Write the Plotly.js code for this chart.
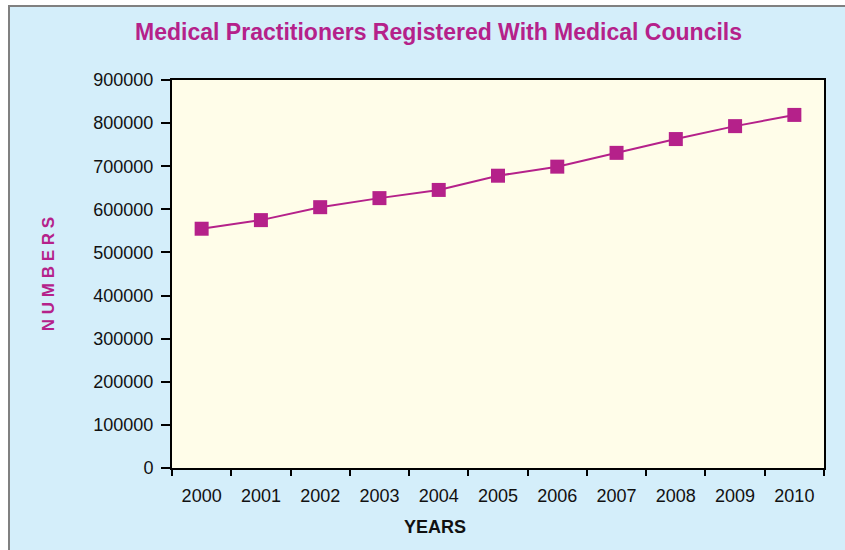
<!DOCTYPE html>
<html>
<head>
<meta charset="utf-8">
<script src="https://cdn.plot.ly/plotly-3.0.1.min.js"></script>
<style>
  html, body { margin: 0; padding: 0; background: #ffffff; width: 845px; height: 550px; overflow: hidden; }
  #frame { position: absolute; left: 8px; top: 5px; width: 860px; height: 560px; background: #D4EEFA; border-left: 2px solid #808080; border-top: 2px solid #808080; }
  #chart { position: absolute; left: 0; top: 0; width: 845px; height: 550px; }
</style>
</head>
<body>
<div id="frame"></div>
<div id="chart"></div>
<script>
const years = ["2000", "2001", "2002", "2003", "2004", "2005", "2006", "2007", "2008", "2009", "2010"];
const practitioners = [555000, 575000, 605000, 626000, 645000, 678000, 699000, 731000, 763000, 793000, 819000];
const yTicks = [0, 100000, 200000, 300000, 400000, 500000, 600000, 700000, 800000, 900000];

const magenta = "#B5218A";

const trace = {
  x: years,
  y: practitioners,
  type: "scatter",
  mode: "lines+markers",
  line: { color: magenta, width: 2 },
  marker: { symbol: "square", size: 14, color: magenta },
  hoverinfo: "x+y"
};

const layout = {
  width: 845,
  height: 550,
  margin: { l: 172, r: 21, t: 80, b: 82 },
  paper_bgcolor: "rgba(0,0,0,0)",
  plot_bgcolor: "#FFFDE9",
  showlegend: false,
  font: { family: "Liberation Sans, Arial, sans-serif", color: "#000000" },
  title: {
    text: "Medical Practitioners Registered With Medical Councils",
    font: { family: "Liberation Sans, Arial, sans-serif", size: 23, color: magenta, weight: "bold" },
    xref: "container", x: 0.519, xanchor: "center",
    yref: "container", y: 0.942, yanchor: "middle"
  },
  annotations: [{
    text: "YEARS",
    xref: "paper", x: 0.403, xanchor: "center",
    yref: "paper", y: -0.152, yanchor: "middle",
    showarrow: false,
    font: { family: "Liberation Sans, Arial, sans-serif", size: 18, weight: "bold", color: "#111111" }
  }],
  xaxis: {
    type: "category",
    range: [-0.5, 10.5],
    tickson: "boundaries",
    ticks: "outside",
    ticklen: 6,
    tickwidth: 2,
    tickcolor: "#000000",
    showline: true,
    linecolor: "#000000",
    linewidth: 2,
    mirror: true,
    showgrid: false,
    zeroline: false,
    tickfont: { size: 18, color: "#111111" },
    ticklabelstandoff: 10,
    fixedrange: true
  },
  yaxis: {
    range: [0, 900000],
    tickvals: yTicks,
    ticktext: yTicks.map(String),
    ticks: "outside",
    ticklen: 9,
    tickwidth: 2,
    tickcolor: "#000000",
    showline: true,
    linecolor: "#000000",
    linewidth: 2,
    mirror: true,
    showgrid: false,
    zeroline: false,
    tickfont: { size: 18, color: "#111111" },
    ticklabelstandoff: 4,
    title: { text: "N U M B E R S", font: { size: 17, weight: "bold", color: magenta }, standoff: 34 },
    fixedrange: true
  }
};

Plotly.newPlot("chart", [trace], layout, { displayModeBar: false, staticPlot: true });
</script>
</body>
</html>
